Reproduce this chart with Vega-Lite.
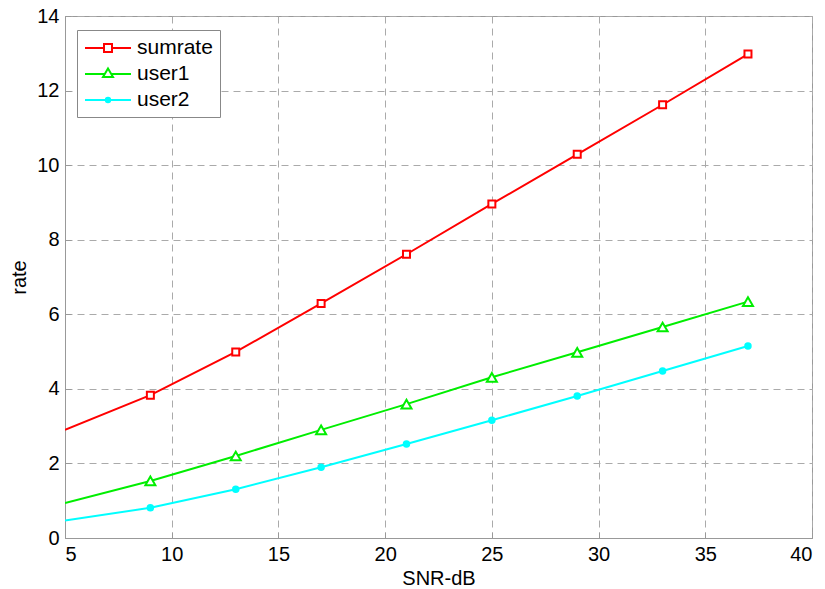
{
  "$schema": "https://vega.github.io/schema/vega-lite/v6.json",
  "autosize": "none",
  "width": 747,
  "height": 522,
  "padding": {"left": 65, "top": 16, "right": 13, "bottom": 51},
  "background": "white",
  "config": {
    "font": "Liberation Sans",
    "view": {"stroke": "#999999", "strokeWidth": 1},
    "axis": {
      "labelFont": "Liberation Sans",
      "titleFont": "Liberation Sans",
      "labelFontSize": 20,
      "titleFontSize": 20,
      "titleFontWeight": "normal",
      "labelColor": "#000000",
      "titleColor": "#000000",
      "domainColor": "#999999",
      "tickColor": "#999999",
      "tickSize": -6,
      "gridColor": "#aaaaaa",
      "gridDash": [7, 5],
      "gridWidth": 1,
      "gridOpacity": 1
    }
  },
  "data": {
    "values": [
      {"x": 5, "rate": 2.9, "series": "sumrate"},
      {"x": 9, "rate": 3.83, "series": "sumrate"},
      {"x": 13, "rate": 4.99, "series": "sumrate"},
      {"x": 17, "rate": 6.29, "series": "sumrate"},
      {"x": 21, "rate": 7.61, "series": "sumrate"},
      {"x": 25, "rate": 8.96, "series": "sumrate"},
      {"x": 29, "rate": 10.29, "series": "sumrate"},
      {"x": 33, "rate": 11.62, "series": "sumrate"},
      {"x": 37, "rate": 12.98, "series": "sumrate"},
      {"x": 5, "rate": 0.94, "series": "user1"},
      {"x": 9, "rate": 1.53, "series": "user1"},
      {"x": 13, "rate": 2.2, "series": "user1"},
      {"x": 17, "rate": 2.9, "series": "user1"},
      {"x": 21, "rate": 3.59, "series": "user1"},
      {"x": 25, "rate": 4.31, "series": "user1"},
      {"x": 29, "rate": 4.98, "series": "user1"},
      {"x": 33, "rate": 5.66, "series": "user1"},
      {"x": 37, "rate": 6.34, "series": "user1"},
      {"x": 5, "rate": 0.47, "series": "user2"},
      {"x": 9, "rate": 0.81, "series": "user2"},
      {"x": 13, "rate": 1.31, "series": "user2"},
      {"x": 17, "rate": 1.9, "series": "user2"},
      {"x": 21, "rate": 2.52, "series": "user2"},
      {"x": 25, "rate": 3.16, "series": "user2"},
      {"x": 29, "rate": 3.81, "series": "user2"},
      {"x": 33, "rate": 4.48, "series": "user2"},
      {"x": 37, "rate": 5.15, "series": "user2"}
    ]
  },
  "encoding": {
    "x": {
      "field": "x", "type": "quantitative",
      "scale": {"domain": [5, 40], "nice": false, "zero": false},
      "axis": {"values": [5, 10, 15, 20, 25, 30, 35, 40], "title": "SNR-dB", "titlePadding": 4, "labelPadding": 12}
    },
    "y": {
      "field": "rate", "type": "quantitative",
      "scale": {"domain": [0, 14], "nice": false},
      "axis": {"values": [0, 2, 4, 6, 8, 10, 12, 14], "title": "rate", "titlePadding": 7, "labelPadding": 12}
    }
  },
  "layer": [
    {
      "mark": {"type": "line", "strokeWidth": 2, "clip": true},
      "encoding": {
        "stroke": {
          "field": "series", "type": "nominal",
          "scale": {"domain": ["sumrate", "user1", "user2"], "range": ["#ff0000", "#00ee00", "#00ffff"]},
          "legend": {
            "title": null,
            "orient": "none",
            "legendX": 12,
            "legendY": 14,
            "fillColor": "white",
            "strokeColor": "#888888",
            "padding": 7,
            "labelFont": "Liberation Sans",
            "labelFontSize": 21,
            "labelColor": "#000000",
            "symbolSize": 400,
            "symbolStrokeWidth": 2,
            "rowPadding": 5,
            "labelOffset": 31,
            "encode": {
              "symbols": {
                "update": {
                  "shape": {"signal": "datum.value === 'sumrate' ? 'M-1,0H0.9M1.7,0H3.6M0.9,-0.4H1.7V0.4H0.9Z' : datum.value === 'user1' ? 'M-1,0H0.98M1.62,0H3.6M1.3,-0.55L1.8,0.3H0.8Z' : 'M-1,0H3.6M1.52,0A0.22,0.22,0,1,1,1.08,0A0.22,0.22,0,1,1,1.52,0Z'"},
                  "fill": {"signal": "datum.value === 'user2' ? '#00ffff' : 'white'"},
                  "fillOpacity": {"value": 1}
                }
              }
            }
          }
        }
      }
    },
    {
      "transform": [{"filter": "datum.x >= 9 && datum.series === 'sumrate'"}],
      "mark": {"type": "point", "shape": "square", "size": 49, "filled": false, "fill": "white", "fillOpacity": 1, "stroke": "#ff0000", "strokeWidth": 2, "opacity": 1, "clip": true}
    },
    {
      "transform": [{"filter": "datum.x >= 9 && datum.series === 'user1'"}],
      "mark": {"type": "point", "shape": "triangle-up", "size": 100, "filled": false, "fill": "white", "fillOpacity": 1, "stroke": "#00ee00", "strokeWidth": 2, "opacity": 1, "clip": true}
    },
    {
      "transform": [{"filter": "datum.x >= 9 && datum.series === 'user2'"}],
      "mark": {"type": "point", "shape": "circle", "size": 30, "filled": true, "fill": "#00ffff", "stroke": "#00ffff", "strokeWidth": 2, "opacity": 1, "clip": true}
    }
  ]
}
